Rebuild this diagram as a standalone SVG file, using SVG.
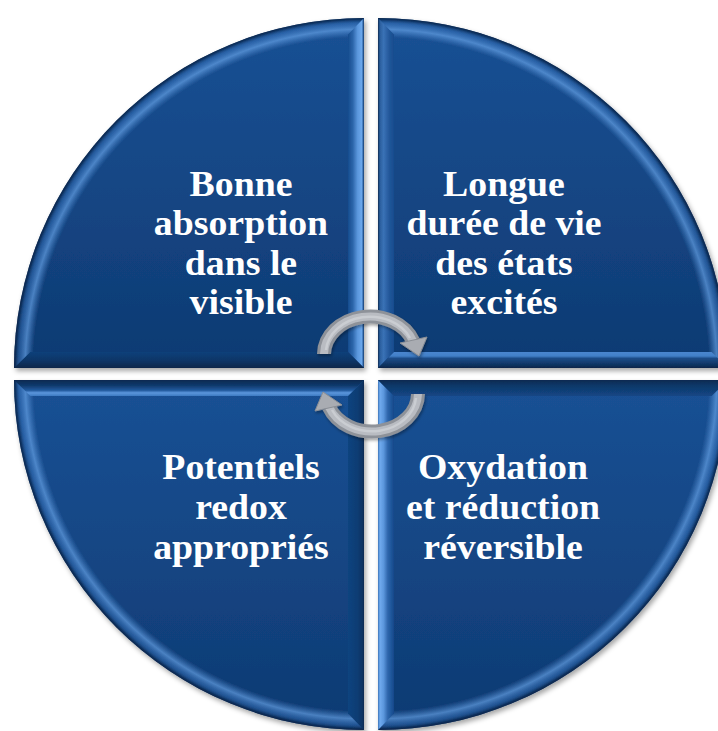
<svg xmlns="http://www.w3.org/2000/svg" width="718" height="731" viewBox="0 0 718 731">
<defs>
<style>
.lbl{font-family:"Liberation Serif","Times New Roman",serif;font-weight:bold;font-size:35px;fill:#ffffff;text-anchor:middle}
.arcO{fill:none;stroke:#8e9299;stroke-width:14}
.arcI{fill:none;stroke:#b9bcc2;stroke-width:8}
.arcH{fill:none;stroke:#d6d8dc;stroke-width:2.5}
.head{fill:#a9acb2;stroke:#8a8e95;stroke-width:1}
</style>
<linearGradient id="base" x1="0" y1="0" x2="0" y2="1">
<stop offset="0" stop-color="#1a5195"/>
<stop offset="1" stop-color="#0e3a72"/>
</linearGradient>
<radialGradient id="ringTL" cx="1" cy="1" r="1" fx="1" fy="1">
<stop offset="0" stop-color="#5a96dc" stop-opacity="0"/>
<stop offset="0.945" stop-color="#5a96dc" stop-opacity="0"/>
<stop offset="0.968" stop-color="#6aa6ea" stop-opacity="0.65"/>
<stop offset="0.985" stop-color="#3d78c0" stop-opacity="0.45"/>
<stop offset="0.995" stop-color="#0b2b55" stop-opacity="0.7"/>
<stop offset="1" stop-color="#08203f" stop-opacity="0.9"/>
</radialGradient>
<radialGradient id="ringTR" href="#ringTL" cx="0" cy="1" fx="0" fy="1"/>
<radialGradient id="ringBR" href="#ringTL" cx="0" cy="0" fx="0" fy="0"/>
<radialGradient id="ringBL" href="#ringTL" cx="1" cy="0" fx="1" fy="0"/>
<linearGradient id="tlR" gradientUnits="userSpaceOnUse" x1="348" y1="0" x2="364" y2="0">
<stop offset="0" stop-color="#174c8e"/><stop offset="0.3" stop-color="#2c65aa"/><stop offset="0.6" stop-color="#5b97dd"/><stop offset="0.85" stop-color="#6ba7eb"/><stop offset="0.95" stop-color="#2f64a4"/><stop offset="1" stop-color="#0e2f5a"/>
</linearGradient>
<linearGradient id="tlB" gradientUnits="userSpaceOnUse" x1="0" y1="352" x2="0" y2="368">
<stop offset="0" stop-color="#10407a"/><stop offset="0.5" stop-color="#0d3668"/><stop offset="1" stop-color="#092649"/>
</linearGradient>
<linearGradient id="trL" gradientUnits="userSpaceOnUse" x1="378" y1="0" x2="394" y2="0">
<stop offset="0" stop-color="#0c2a52"/><stop offset="0.12" stop-color="#2a5e9d"/><stop offset="0.35" stop-color="#3a72b6"/><stop offset="0.7" stop-color="#22579a"/><stop offset="1" stop-color="#174c8e"/>
</linearGradient>
<linearGradient id="trB" gradientUnits="userSpaceOnUse" x1="0" y1="352" x2="0" y2="368">
<stop offset="0" stop-color="#4a86cf"/><stop offset="0.25" stop-color="#4280c8"/><stop offset="0.4" stop-color="#1d4c88"/><stop offset="0.75" stop-color="#103767"/><stop offset="1" stop-color="#0a2649"/>
</linearGradient>
<linearGradient id="brL" gradientUnits="userSpaceOnUse" x1="378" y1="0" x2="394" y2="0">
<stop offset="0" stop-color="#3a73b8"/><stop offset="0.12" stop-color="#70abef"/><stop offset="0.35" stop-color="#5b97dd"/><stop offset="0.6" stop-color="#2f68ae"/><stop offset="1" stop-color="#14488a"/>
</linearGradient>
<linearGradient id="brT" gradientUnits="userSpaceOnUse" x1="0" y1="380" x2="0" y2="396">
<stop offset="0" stop-color="#0a2850"/><stop offset="0.3" stop-color="#0f3766"/><stop offset="1" stop-color="#134685"/>
</linearGradient>
<linearGradient id="blT" gradientUnits="userSpaceOnUse" x1="0" y1="380" x2="0" y2="396">
<stop offset="0" stop-color="#0a2850"/><stop offset="0.35" stop-color="#0f3a6d"/><stop offset="0.65" stop-color="#235b9f"/><stop offset="0.8" stop-color="#5a96dc"/><stop offset="1" stop-color="#3f7bc2"/>
</linearGradient>
<linearGradient id="blR" gradientUnits="userSpaceOnUse" x1="348" y1="0" x2="364" y2="0">
<stop offset="0" stop-color="#11447f"/><stop offset="0.6" stop-color="#0f3c73"/><stop offset="0.9" stop-color="#0c3262"/><stop offset="1" stop-color="#0a2a52"/>
</linearGradient>
<filter id="sh" x="-5%" y="-5%" width="115%" height="115%">
<feDropShadow dx="2" dy="3" stdDeviation="2.5" flood-color="#000" flood-opacity="0.35"/>
</filter>
<filter id="ash" x="-20%" y="-20%" width="140%" height="140%">
<feDropShadow dx="1" dy="2" stdDeviation="1.5" flood-color="#000" flood-opacity="0.35"/>
</filter>
</defs>
<rect width="718" height="731" fill="#ffffff"/>

<g id="q-tl">
<g filter="url(#sh)">
<path d="M364,368 L14,368 A350,350 0 0 1 364,18 Z" fill="url(#base)"/>
<path d="M364,368 L14,368 A350,350 0 0 1 364,18 Z" fill="url(#ringTL)"/>
<polygon points="364,368 364,18 348,34.4 348,352" fill="url(#tlR)"/>
<polygon points="364,368 14,368 30.4,352 348,352" fill="url(#tlB)"/>
</g>
<g transform="matrix(1.08 0 0 1 -19.28 0)">
<text class="lbl" x="241" y="196">Bonne</text>
<text class="lbl" x="241" y="235.5">absorption</text>
<text class="lbl" x="241" y="275">dans le</text>
<text class="lbl" x="241" y="314">visible</text>
</g>
</g>

<g id="q-tr">
<g filter="url(#sh)">
<path d="M378,368 L378,18 A350,350 0 0 1 728,368 Z" fill="url(#base)"/>
<path d="M378,368 L378,18 A350,350 0 0 1 728,368 Z" fill="url(#ringTR)"/>
<polygon points="378,368 378,18 394,34.4 394,352" fill="url(#trL)"/>
<polygon points="378,368 728,368 711.6,352 394,352" fill="url(#trB)"/>
</g>
<g transform="matrix(1.08 0 0 1 -40.32 0)">
<text class="lbl" x="504" y="196">Longue</text>
<text class="lbl" x="504" y="235.5">durée de vie</text>
<text class="lbl" x="504" y="275">des états</text>
<text class="lbl" x="504" y="314">excités</text>
</g>
</g>

<g id="q-br">
<g filter="url(#sh)">
<path d="M378,380 L728,380 A350,350 0 0 1 378,730 Z" fill="url(#base)"/>
<path d="M378,380 L728,380 A350,350 0 0 1 378,730 Z" fill="url(#ringBR)"/>
<polygon points="378,380 378,730 394,713.6 394,396" fill="url(#brL)"/>
<polygon points="378,380 728,380 711.6,396 394,396" fill="url(#brT)"/>
</g>
<g transform="matrix(1.08 0 0 1 -40.24 0)">
<text class="lbl" x="503" y="479">Oxydation</text>
<text class="lbl" x="503" y="519">et réduction</text>
<text class="lbl" x="503" y="559">réversible</text>
</g>
</g>

<g id="q-bl">
<g filter="url(#sh)">
<path d="M364,380 L364,730 A350,350 0 0 1 14,380 Z" fill="url(#base)"/>
<path d="M364,380 L364,730 A350,350 0 0 1 14,380 Z" fill="url(#ringBL)"/>
<polygon points="364,380 364,730 348,713.6 348,396" fill="url(#blR)"/>
<polygon points="364,380 14,380 30.4,396 348,396" fill="url(#blT)"/>
</g>
<g transform="matrix(1.08 0 0 1 -19.28 0)">
<text class="lbl" x="241" y="479">Potentiels</text>
<text class="lbl" x="241" y="519">redox</text>
<text class="lbl" x="241" y="559">appropriés</text>
</g>
</g>

<g id="connectors" filter="url(#ash)">
<g id="arrow-top">
<path class="arcO" d="M324,354 A46,38 0 0 1 413,341"/>
<path class="arcI" d="M324,354 A46,38 0 0 1 413,341"/>
<path class="arcH" d="M326,350 A44,36 0 0 1 410,338" stroke-opacity="0.6"/>
<polygon class="head" points="400,343 427,337 419,356"/>
</g>
<g id="arrow-bottom" transform="rotate(180 371 374)">
<path class="arcO" d="M324,354 A46,38 0 0 1 413,341"/>
<path class="arcI" d="M324,354 A46,38 0 0 1 413,341"/>
<path class="arcH" d="M326,350 A44,36 0 0 1 410,338" stroke-opacity="0.6"/>
<polygon class="head" points="400,343 427,337 419,356"/>
</g>
</g>
</svg>
